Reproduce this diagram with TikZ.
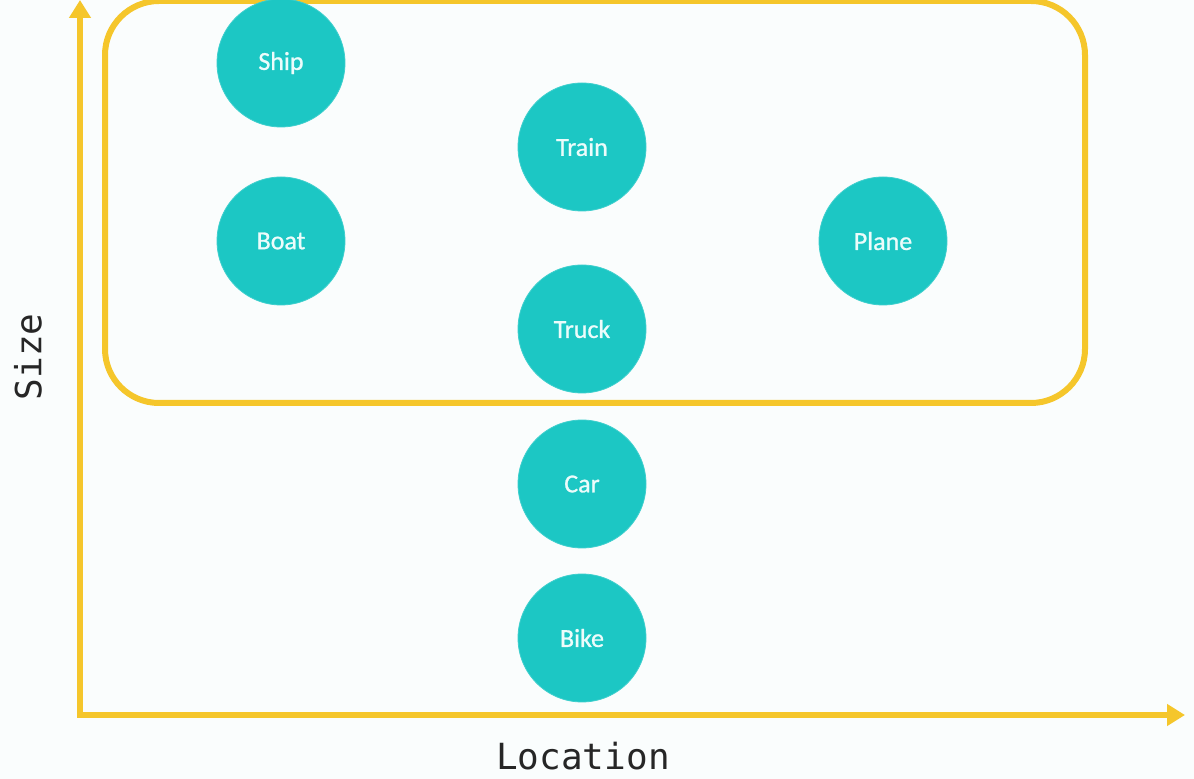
\documentclass[tikz,border=0pt]{standalone}
\usepackage{fontspec}
\setmainfont{Carlito}
\newfontfamily\vehfont[FakeBold=0.9]{Carlito}
\newfontfamily\axisfont{DejaVu Sans Mono}
\usetikzlibrary{arrows.meta,positioning}
\definecolor{tealfill}{RGB}{28,199,196}
\definecolor{axisyel}{RGB}{245,198,43}
\definecolor{pagebg}{RGB}{250,253,253}
\definecolor{txtlight}{RGB}{236,252,251}
\tikzset{
  veh/.style={circle,fill=tealfill,draw=tealfill!85!white,line width=0.4pt,
              minimum size=64pt,inner sep=0pt,
              font=\vehfont\fontsize{13}{15}\selectfont,text=txtlight},
  grp/.style={draw=axisyel,line width=3pt,rounded corners=27pt,
              minimum width=490pt,minimum height=201pt,inner sep=0pt},
  axis/.style={draw=axisyel,line width=3pt,
               -{Triangle[length=9pt,width=10.5pt]}},
  axlbl/.style={font=\axisfont\fontsize{18}{20}\selectfont,text=black!85},
}

\begin{document}
\begin{tikzpicture}[x=0.5pt,y=-0.5pt]

  % --- fond ---------------------------------------------------------------
  \fill[pagebg] (0,0) rectangle (1194,779);
  \useasboundingbox (0,0) rectangle (1194,779);

  % --- grupul mare --------------------------------------------------------
  \node[grp] (big) at (595,202) {};

  % --- vehicule -----------------------------------------------------------
  \node[veh] (ship)  at (281,63)  {Ship};
  \node[veh] (train) at (582,147) {Train};
  \node[veh] (boat)  at (281,241) {Boat};
  \node[veh] (plane) at (883,241) {Plane};
  \node[veh] (truck) at (582,329) {Truck};
  \node[veh] (car)   at (582,484) {Car};
  \node[veh] (bike)  at (582,638) {Bike};

  % --- axe ----------------------------------------------------------------
  \coordinate (orig) at (80,715);
  \coordinate (ytip) at (80,0);
  \coordinate (xtip) at (1185,715);
  \draw[axis] ([xshift=-1.5pt]orig) -- (xtip);
  \draw[axis] ([yshift=-1.5pt]orig) -- (ytip);

  \node[axlbl] (xlbl) at (583,756) {Location};
  \node[axlbl,rotate=90] (ylbl) at (28,357) {Size};

\end{tikzpicture}
\end{document}
